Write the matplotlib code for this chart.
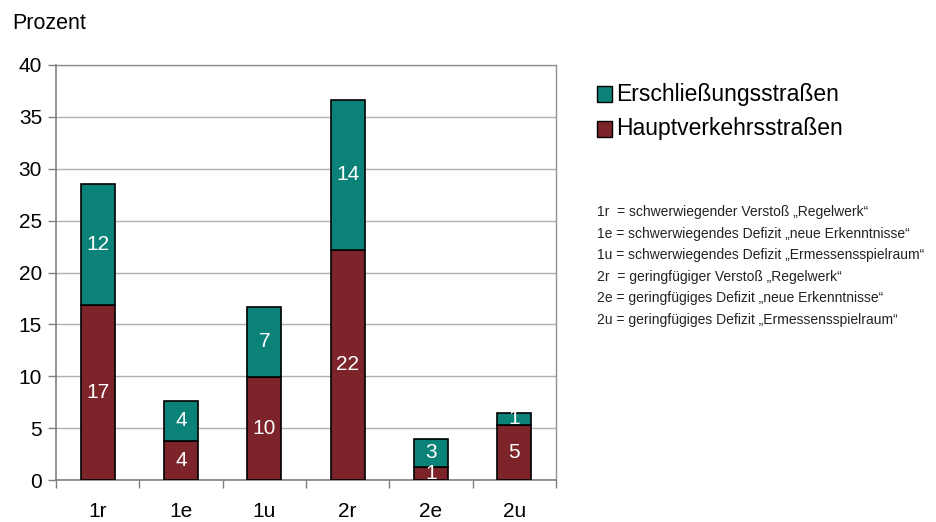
import matplotlib
matplotlib.use("Agg")
import matplotlib.pyplot as plt
from matplotlib.patches import Rectangle

plt.rcParams['font.family'] = ['Liberation Sans', 'DejaVu Sans']

categories = ["1r", "1e", "1u", "2r", "2e", "2u"]
haupt = [16.9, 3.8, 9.95, 22.2, 1.3, 5.3]          # Hauptverkehrsstraßen (bottom)
erschl = [11.6, 3.8, 6.75, 14.4, 2.65, 1.2]         # Erschließungsstraßen (top)
haupt_labels = ["17", "4", "10", "22", "1", "5"]
erschl_labels = ["12", "4", "7", "14", "3", "1"]
series_names = ["Erschließungsstraßen", "Hauptverkehrsstraßen"]
notes = [
    "1r  = schwerwiegender Verstoß „Regelwerk“",
    "1e = schwerwiegendes Defizit „neue Erkenntnisse“",
    "1u = schwerwiegendes Defizit „Ermessensspielraum“",
    "2r  = geringfügiger Verstoß „Regelwerk“",
    "2e = geringfügiges Defizit „neue Erkenntnisse“",
    "2u = geringfügiges Defizit „Ermessensspielraum“",
]

teal = "#0b8278"
red = "#7c2429"

W, H = 936, 522
fig = plt.figure(figsize=(W/100, H/100), dpi=100)
ax = fig.add_axes([56/W, 1-480/H, 500/W, 415/H])

x = list(range(len(categories)))
bw = 0.41
ax.bar(x, haupt, width=bw, color=red, edgecolor="black", linewidth=1.2, zorder=3)
ax.bar(x, erschl, bottom=haupt, width=bw, color=teal, edgecolor="black", linewidth=1.2, zorder=3)

for i in x:
    ax.text(i, haupt[i]/2, haupt_labels[i], ha="center", va="center", color="white", fontsize=15, zorder=4)
    ax.text(i, haupt[i] + erschl[i]/2, erschl_labels[i], ha="center", va="center", color="white", fontsize=15, zorder=4)

ax.set_xlim(-0.5, len(categories)-0.5)
ax.set_ylim(0, 40)
ax.set_yticks(range(0, 41, 5))
ax.yaxis.grid(True, color="#b0b0b0", linewidth=1.0, zorder=0)
ax.set_axisbelow(True)

ax.set_xticks(x)
ax.set_xticklabels(categories, fontsize=15)
ax.tick_params(axis="x", length=0, pad=16)
ax.set_xticks([i + 0.5 for i in range(-1, len(categories))], minor=True)
ax.tick_params(axis="x", which="minor", length=6, color="#808080", width=1)
ax.tick_params(axis="y", labelsize=15, length=6, color="#808080", width=1, pad=4)

for s in ["top", "right"]:
    ax.spines[s].set_color("#909090")
    ax.spines[s].set_linewidth(1.0)
for s in ["left", "bottom"]:
    ax.spines[s].set_color("#808080")
    ax.spines[s].set_linewidth(1.2)

fig.text(12/W, 1-24/H, "Prozent", fontsize=15.5, va="center", ha="left")

# legend
colors = [teal, red]
ly = [94, 129]
for name, c, y in zip(series_names, colors, ly):
    fig.patches.append(Rectangle((597/W, 1-(y+7.5)/H), 15/W, 15/H, facecolor=c, edgecolor="black",
                                 linewidth=1.0, transform=fig.transFigure, figure=fig))
    fig.text(616/W, 1-y/H, name, fontsize=16.5, va="center", ha="left")

for k, t in enumerate(notes):
    fig.text(597/W, 1-(212 + k*21.6)/H, t, fontsize=10, va="center", ha="left", color="#222222")

fig.savefig("out.png", dpi=100)
